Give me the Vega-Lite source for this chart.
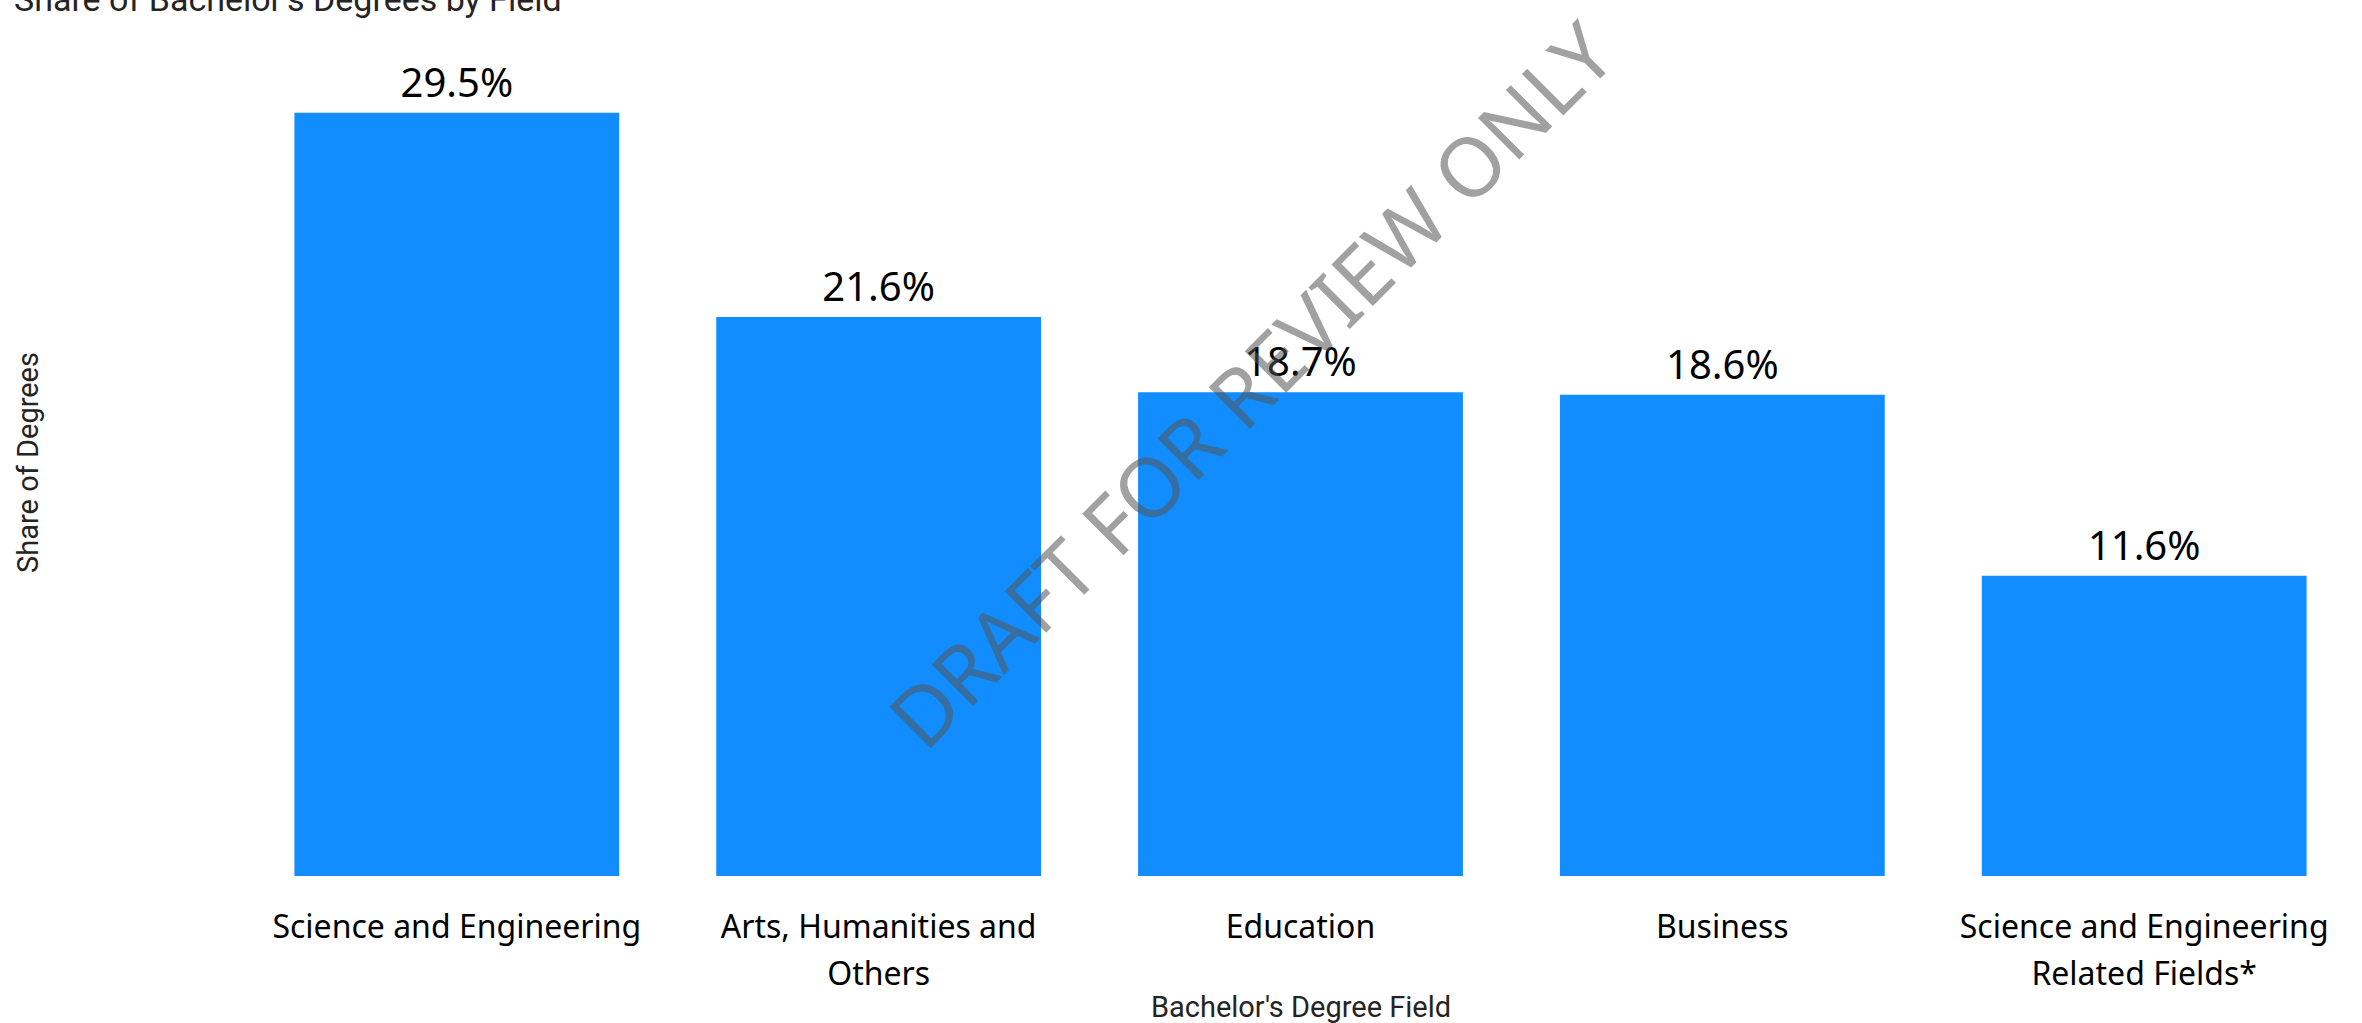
{
  "$schema": "https://vega.github.io/schema/vega-lite/v6.json",
  "autosize": "none",
  "width": 2105,
  "height": 828,
  "padding": {"left": 248, "top": 48, "right": 9, "bottom": 147},
  "background": "white",
  "title": {
    "text": "Share of Bachelor's Degrees by Field",
    "anchor": "start",
    "frame": "bounds",
    "font": "Roboto",
    "fontSize": 34,
    "fontWeight": "normal",
    "color": "#252423",
    "offset": -5
  },
  "datasets": {
    "degrees": [
      {"field": "Science and Engineering", "share": 0.295},
      {"field": "Arts, Humanities and Others", "share": 0.216},
      {"field": "Education", "share": 0.187},
      {"field": "Business", "share": 0.186},
      {"field": "Science and Engineering Related Fields*", "share": 0.116}
    ],
    "watermark": [
      {"field": "Education", "share": 0.206, "note": "DRAFT FOR REVIEW ONLY"}
    ]
  },
  "config": {
    "view": {"stroke": null}
  },
  "layer": [
    {
      "data": {"name": "degrees"},
      "mark": {"type": "bar", "color": "#118DFF"},
      "encoding": {
        "x": {
          "field": "field",
          "type": "nominal",
          "sort": null,
          "title": "Bachelor's Degree Field",
          "scale": {"paddingInner": 0.23, "paddingOuter": 0.11},
          "axis": {
            "labelAngle": 0,
            "labelFont": "Noto Sans",
            "labelFontSize": 32,
            "labelColor": "#000000",
            "labelPadding": 36,
            "labelLineHeight": 47,
            "labelBaseline": "top",
            "labelLimit": 600,
            "labelExpr": "datum.label == 'Arts, Humanities and Others' ? ['Arts, Humanities and', 'Others'] : datum.label == 'Science and Engineering Related Fields*' ? ['Science and Engineering', 'Related Fields*'] : datum.label",
            "ticks": false,
            "domain": false,
            "titleFont": "Roboto",
            "titleFontSize": 29,
            "titleFontWeight": "normal",
            "titleColor": "#252423",
            "titlePadding": 3
          }
        },
        "y": {
          "field": "share",
          "type": "quantitative",
          "title": "Share of Degrees",
          "scale": {"domain": [0, 0.32], "nice": false},
          "axis": {
            "labels": false,
            "ticks": false,
            "domain": false,
            "grid": false,
            "titleFont": "Roboto",
            "titleFontSize": 29,
            "titleFontWeight": "normal",
            "titleColor": "#252423",
            "titlePadding": 205
          }
        }
      }
    },
    {
      "data": {"name": "degrees"},
      "mark": {"type": "text", "font": "Noto Sans", "fontSize": 40, "color": "#000000", "baseline": "alphabetic", "dy": -16},
      "encoding": {
        "x": {"field": "field", "type": "nominal", "sort": null},
        "y": {"field": "share", "type": "quantitative"},
        "text": {"field": "share", "type": "quantitative", "format": ".1%"}
      }
    },
    {
      "data": {"name": "watermark"},
      "mark": {"type": "text", "font": "Noto Sans", "fontSize": 82, "fontWeight": "normal", "color": "#555555", "opacity": 0.55, "angle": -45, "align": "center", "baseline": "middle", "dx": -65},
      "encoding": {
        "x": {"field": "field", "type": "nominal", "sort": null},
        "y": {"field": "share", "type": "quantitative"},
        "text": {"field": "note", "type": "nominal"}
      }
    }
  ]
}
